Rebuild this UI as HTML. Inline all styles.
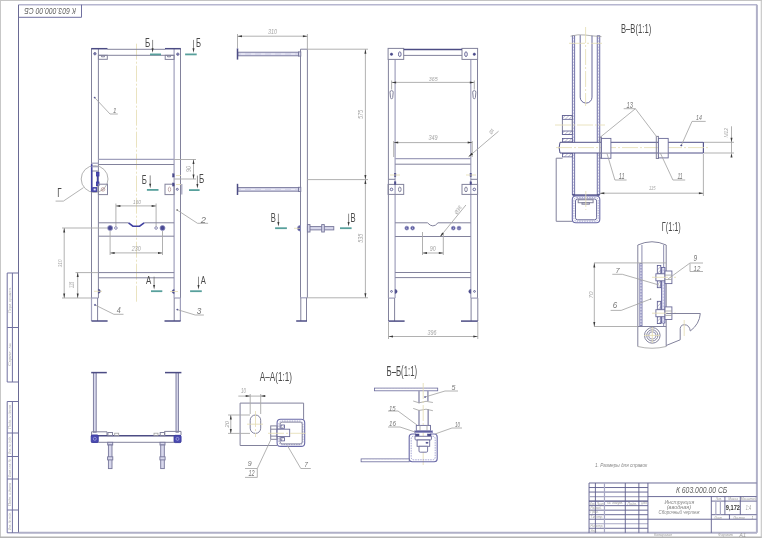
<!DOCTYPE html>
<html><head><meta charset="utf-8"><style>
html,body{margin:0;padding:0;background:#fff;width:762px;height:538px;overflow:hidden}
svg{display:block;will-change:transform}
text{font-family:"Liberation Sans",sans-serif;font-style:italic}
line,polyline{fill:none}
.m{stroke:#82829c;stroke-width:1;fill:none}
.mb{stroke:#5a5a90;stroke-width:0.9;fill:none}
.m2{stroke:#a0a0bc;stroke-width:1.2;fill:none}
.mf{stroke:#76769a;stroke-width:0.9;fill:#d8d8ec}
.d{stroke:#a8a8a8;stroke-width:0.9;fill:none}
.d2{stroke:#a0a0a0;stroke-width:0.8;fill:none}
.d3{stroke:#b09090;stroke-width:0.7;fill:none}
.rc{stroke:#fff;stroke-width:0.6;stroke-dasharray:4 6;fill:none}
.wf{fill:#e8e8f8;stroke:none}
.hw{stroke:#5c5c98;stroke-width:0.8;fill:#c8c8e4}
.hd{stroke:#fff;stroke-width:0.8;stroke-dasharray:1.5 1.5;fill:none}
.hat{stroke:#5a5a90;stroke-width:0.8;fill:url(#hp)}
.mf4{stroke:#505088;stroke-width:1;fill:#fff}
.mw{stroke:#6a6a98;stroke-width:0.9;fill:#fff}
.mt3{stroke:#6a6aa8;stroke-width:1.1;fill:none}
.d4{stroke:#8080c0;stroke-width:0.7;stroke-dasharray:1.5 1;fill:none}
.mf5{stroke:#3a3aa0;stroke-width:0.8;fill:#4a4ab0}
.wl{stroke:#c0c0f0;stroke-width:0.6;fill:none}
.mt{stroke:#4c4c84;stroke-width:1.5;fill:none}
.mt2{stroke:#5a5a90;stroke-width:1;fill:none}
.mth{stroke:#4040a0;stroke-width:1.6;fill:none}
.mth2{stroke:#4040a0;stroke-width:1.3;fill:none}
.mf2{stroke:#4a4a8a;stroke-width:0.5;fill:#4a4a8a}
.mf3{stroke:#9090c0;stroke-width:0.8;fill:#4a4a94}
.ar{fill:#3a3a3a;stroke:none}
.c{stroke:#e4dcb0;stroke-width:0.8;stroke-dasharray:16 2 2 2;fill:none}
.s{stroke:#58a09c;stroke-width:1.8}
.gb{stroke:#c4c4c4;stroke-width:1.1}
.gb2{stroke:#b4b4b4;stroke-width:1.4}
.frt{stroke:#b6b6d0;stroke-width:1.6}
.frr{stroke:#b0b0c8;stroke-width:2}
.frl{stroke:#6a6a94;stroke-width:1}
.fr2{stroke:#7070a0;stroke-width:1;fill:none}
.tbl{stroke:#5c5c8c;stroke-width:0.9}
.tbl3{stroke:#4c4c80;stroke-width:1.3}
.tbl2{stroke:#a8a8c4;stroke-width:1.2}
.dt{fill:#a4a4a4}
.lb{fill:#4a4a4a;font-style:normal}
.ld{fill:#777}
.st{fill:#aaa}
.tbi{fill:#606060}
.tbt{fill:#888}
.tbs{fill:#999}
.tbb{fill:#333;font-style:normal;font-weight:bold}
.d5{stroke:#707070;stroke-width:0.8;fill:none}
.pw{stroke:#9c9cb8;stroke-width:1.6}
.hat2{stroke:#6a6a9c;stroke-width:0.8;fill:#fff}
.mbt{stroke:#5a5a90;stroke-width:0.7;fill:#fff}

</style></head><body>
<svg width="762" height="538" viewBox="0 0 762 538">
<defs><pattern id="hp" patternUnits="userSpaceOnUse" width="2.6" height="2.6" patternTransform="rotate(45)"><rect width="2.6" height="2.6" fill="#fff"/><line x1="0" y1="0" x2="0" y2="2.6" stroke="#8c8cac" stroke-width="0.9"/></pattern></defs>
<line x1="0" y1="0.5" x2="762" y2="0.5" class="gb" />
<line x1="0.4" y1="0" x2="0.4" y2="538" class="gb" />
<line x1="0" y1="537.3" x2="762" y2="537.3" class="gb2" />
<line x1="761.3" y1="0" x2="761.3" y2="538" class="gb" />
<line x1="18.5" y1="4.8" x2="757" y2="4.8" class="frt" />
<line x1="18.5" y1="4.8" x2="18.5" y2="532.8" class="frl" />
<line x1="756.9" y1="4.8" x2="756.9" y2="532.8" class="frr" />
<line x1="18.5" y1="532.8" x2="757" y2="532.8" class="frr" />
<polyline points="18.5,17.3 81.5,17.3 81.5,4.7" class="fr2" />
<text x="0" y="0" font-size="9.3" class="tbi" textLength="51.6" lengthAdjust="spacingAndGlyphs" transform="translate(75.9 8) rotate(180)">К 603.000.00 СБ</text>
<polyline points="18.5,273 7.2,273 7.2,382 18.5,382" class="fr2" />
<line x1="12.4" y1="273" x2="12.4" y2="382" class="fr2" />
<line x1="7.2" y1="327.5" x2="18.5" y2="327.5" class="fr2" />
<polyline points="18.5,401.5 7.2,401.5 7.2,532.8 18.5,532.8" class="fr2" />
<line x1="12.4" y1="401.5" x2="12.4" y2="532.8" class="fr2" />
<line x1="7.2" y1="433" x2="18.5" y2="433" class="fr2" />
<line x1="7.2" y1="456.5" x2="18.5" y2="456.5" class="fr2" />
<line x1="7.2" y1="479" x2="18.5" y2="479" class="fr2" />
<line x1="7.2" y1="510" x2="18.5" y2="510" class="fr2" />
<text x="0" y="0" font-size="10.0" class="st" transform="matrix(0 -0.3913 0.3111 0 10.55 313.00)" >Перв. примен.</text>
<text x="0" y="0" font-size="10.0" class="st" transform="matrix(0 -0.5061 0.3077 0 10.55 366.00)" >Справ. №</text>
<text x="0" y="0" font-size="10.0" class="st" transform="matrix(0 -0.3834 0.3810 0 11.16 429.00)" >Подп. и дата</text>
<text x="0" y="0" font-size="10.0" class="st" transform="matrix(0 -0.2927 0.2963 0 10.58 454.00)" >Инв. № дубл.</text>
<text x="0" y="0" font-size="10.0" class="st" transform="matrix(0 -0.2910 0.4000 0 11.16 477.00)" >Взам. инв. №</text>
<text x="0" y="0" font-size="10.0" class="st" transform="matrix(0 -0.3674 0.3810 0 11.16 506.00)" >Подп. и дата</text>
<text x="0" y="0" font-size="10.0" class="st" transform="matrix(0 -0.2901 0.3810 0 11.16 530.00)" >Инв. № подл.</text>
<line x1="589.06" y1="482.99" x2="756.6" y2="482.99" class="tbl" />
<line x1="589.06" y1="482.99" x2="589.06" y2="532.8" class="tbl" />
<line x1="589.06" y1="487.52" x2="647.93" y2="487.52" class="tbl" />
<line x1="589.06" y1="492.05" x2="647.93" y2="492.05" class="tbl" />
<line x1="589.06" y1="496.58" x2="647.93" y2="496.58" class="tbl2" />
<line x1="589.06" y1="501.1" x2="647.93" y2="501.1" class="tbl3" />
<line x1="589.06" y1="505.63" x2="647.93" y2="505.63" class="tbl" />
<line x1="589.06" y1="510.16" x2="647.93" y2="510.16" class="tbl" />
<line x1="589.06" y1="514.69" x2="647.93" y2="514.69" class="tbl" />
<line x1="589.06" y1="519.22" x2="647.93" y2="519.22" class="tbl" />
<line x1="589.06" y1="523.74" x2="647.93" y2="523.74" class="tbl2" />
<line x1="589.06" y1="528.27" x2="647.93" y2="528.27" class="tbl" />
<line x1="595.4" y1="482.99" x2="595.4" y2="532.8" class="tbl" />
<line x1="604.46" y1="482.99" x2="604.46" y2="532.8" class="tbl2" />
<line x1="625.29" y1="482.99" x2="625.29" y2="532.8" class="tbl" />
<line x1="638.87" y1="482.99" x2="638.87" y2="532.8" class="tbl" />
<line x1="647.93" y1="482.99" x2="647.93" y2="532.8" class="tbl" />
<line x1="647.93" y1="496.58" x2="756.6" y2="496.58" class="tbl" />
<line x1="647.93" y1="519.22" x2="756.6" y2="519.22" class="tbl" />
<line x1="711.32" y1="496.58" x2="711.32" y2="532.8" class="tbl" />
<line x1="711.32" y1="501.1" x2="756.6" y2="501.1" class="tbl" />
<line x1="711.32" y1="514.69" x2="756.6" y2="514.69" class="tbl" />
<line x1="724.9" y1="496.58" x2="724.9" y2="514.69" class="tbl" />
<line x1="740.3" y1="496.58" x2="740.3" y2="514.69" class="tbl" />
<line x1="715.85" y1="501.1" x2="715.85" y2="514.69" class="tbl2" />
<line x1="720.38" y1="501.1" x2="720.38" y2="514.69" class="tbl2" />
<line x1="729.43" y1="514.69" x2="729.43" y2="519.22" class="tbl" />
<text x="0" y="0" font-size="10.0" class="tbi" transform="matrix(0.6844 0 0 0.8169 675.90 492.82)" >К 603.000.00 СБ</text>
<text x="0" y="0" font-size="10.0" class="tbt" transform="matrix(0.5205 0 0 0.4667 664.40 503.82)" >Инструкция</text>
<text x="0" y="0" font-size="10.0" class="tbt" transform="matrix(0.5495 0 0 0.4492 666.80 509.46)" >(вводная)</text>
<text x="0" y="0" font-size="10.0" class="tbt" transform="matrix(0.4440 0 0 0.4421 658.60 514.47)" >Сборочный чертеж</text>
<text x="0" y="0" font-size="10.0" class="tbs" transform="matrix(0.2630 0 0 0.4143 715.74 500.46)" >Лит.</text>
<text x="0" y="0" font-size="10.0" class="tbs" transform="matrix(0.3316 0 0 0.4143 728.20 500.46)" >Масса</text>
<text x="0" y="0" font-size="10.0" class="tbs" transform="matrix(0.3273 0 0 0.3893 740.80 500.46)" >Масштаб</text>
<text x="0" y="0" font-size="10.0" class="tbb" transform="matrix(0.5669 0 0 0.6867 725.80 510.01)" >9,172</text>
<text x="0" y="0" font-size="10.0" class="tbs" transform="matrix(0.3741 0 0 0.6957 745.80 510.00)" >1:4</text>
<text x="0" y="0" font-size="10.0" class="tbs" transform="matrix(0.3042 0 0 0.4286 714.17 518.56)" >Лист</text>
<text x="0" y="0" font-size="10.0" class="tbs" transform="matrix(0.3166 0 0 0.4286 733.17 518.56)" >Листов</text>
<text x="0" y="0" font-size="10.0" class="tbs" transform="matrix(0.3604 0 0 0.4348 751.50 518.60)" >1</text>
<text x="0" y="0" font-size="10.0" class="tbs" transform="matrix(0.2347 0 0 0.4000 590.00 504.96)" >Изм.</text>
<text x="0" y="0" font-size="10.0" class="tbs" transform="matrix(0.2852 0 0 0.4000 596.66 504.96)" >Лист</text>
<text x="0" y="0" font-size="10.0" class="tbs" transform="matrix(0.3632 0 0 0.2995 607.00 504.37)" >№ докум.</text>
<text x="0" y="0" font-size="10.0" class="tbs" transform="matrix(0.3571 0 0 0.3810 627.50 504.96)" >Подп.</text>
<text x="0" y="0" font-size="10.0" class="tbs" transform="matrix(0.2194 0 0 0.3146 641.21 504.37)" >Дата</text>
<text x="0" y="0" font-size="10.0" class="tbs" transform="matrix(0.3094 0 0 0.2963 590.50 508.78)" >Разраб.</text>
<text x="0" y="0" font-size="10.0" class="tbs" transform="matrix(0.3036 0 0 0.3111 590.50 513.28)" >Пров.</text>
<text x="0" y="0" font-size="10.0" class="tbs" transform="matrix(0.3172 0 0 0.3111 590.50 517.81)" >Т.контр.</text>
<text x="0" y="0" font-size="10.0" class="tbs" transform="matrix(0.3022 0 0 0.3111 590.50 526.87)" >Н.контр.</text>
<text x="0" y="0" font-size="10.0" class="tbs" transform="matrix(0.2813 0 0 0.4000 590.51 532.01)" >Утв.</text>
<text x="0" y="0" font-size="10.0" class="tbs" transform="matrix(0.3618 0 0 0.4000 654.00 536.36)" >Копировал</text>
<text x="0" y="0" font-size="10.0" class="tbs" transform="matrix(0.3778 0 0 0.3978 718.00 536.36)" >Формат</text>
<text x="0" y="0" font-size="10.0" class="tbs" transform="matrix(0.5490 0 0 0.5217 739.27 537.20)" >А1</text>
<text x="0" y="0" font-size="10.0" class="tbt" transform="matrix(0.4675 0 0 0.5882 595.00 467.16)" >1. Размеры для справок</text>
<line x1="136.5" y1="43.7" x2="136.5" y2="302" class="c" />
<line x1="91.5" y1="48.6" x2="91.5" y2="298" class="m" />
<line x1="98.4" y1="48.8" x2="98.4" y2="298" class="m" />
<line x1="174.1" y1="48.8" x2="174.1" y2="298" class="m2" />
<line x1="180.5" y1="48.6" x2="180.5" y2="298" class="m" />
<line x1="107.3" y1="49.3" x2="165.2" y2="49.3" class="m" />
<line x1="91.2" y1="48.7" x2="107.5" y2="48.7" class="mt" />
<line x1="165" y1="48.7" x2="180.8" y2="48.7" class="mt" />
<line x1="98.4" y1="55.3" x2="174.1" y2="55.3" class="m" />
<rect x="98.4" y="55.3" width="8.9" height="4" class="m" />
<rect x="165.2" y="55.3" width="8.9" height="4.1" class="m" />
<polyline points="101.5,55.3 101.5,56.8 104.5,56.8 104.5,55.3" class="m" />
<polyline points="167.5,55.3 167.5,56.8 170.5,56.8 170.5,55.3" class="m" />
<circle cx="94.9" cy="53.7" r="1.2" class="mb" />
<circle cx="177.8" cy="54.2" r="1.2" class="mb" />
<circle cx="94.9" cy="53.7" r="0.5" class="mf2" />
<circle cx="177.8" cy="54.2" r="0.5" class="mf2" />
<line x1="98.4" y1="159.4" x2="174.1" y2="159.4" class="m2" />
<line x1="98.4" y1="164.5" x2="174.1" y2="164.5" class="m" />
<circle cx="94.6" cy="179" r="13.4" class="d2" />
<polyline points="83.5,187.6 63.4,201.1 55.6,201.1" class="d2" />
<text x="0" y="0" font-size="10.0" class="lb" transform="matrix(0.7963 0 0 1.3043 57.30 196.90)" >Г</text>
<rect x="91.7" y="171" width="5.5" height="20.8" class="m" />
<line x1="91.7" y1="164.2" x2="91.7" y2="191.8" class="mth" />
<line x1="97.7" y1="172" x2="97.7" y2="185.5" class="mth2" />
<rect x="96.4" y="172.3" width="2.6" height="3.7" class="mf5" />
<rect x="96.4" y="182" width="2.6" height="3.6" class="mf5" />
<rect x="92.7" y="187.6" width="3.9" height="3.8" class="mf5" />
<rect x="93.6" y="188.6" width="2.1" height="1.8" class="wf" />
<line x1="91.5" y1="163.2" x2="98.4" y2="163.2" class="m2" />
<line x1="91.5" y1="166.7" x2="98.4" y2="166.7" class="m2" />
<rect x="98.4" y="184.2" width="9.1" height="10.4" class="m" />
<circle cx="103" cy="189.4" r="1.8" class="d3" />
<line x1="101.5" y1="191" x2="104.5" y2="188" class="d3" />
<rect x="165" y="184.2" width="9.1" height="10.4" class="m" />
<ellipse cx="169.5" cy="189.4" rx="1.2" ry="2.3" class="d3" />
<circle cx="177.3" cy="189.3" r="1" class="mb" />
<line x1="181.8" y1="184" x2="181.8" y2="194.5" class="m2" />
<rect x="172.6" y="173.8" width="1.5" height="3.2" class="mf2" />
<rect x="172.6" y="183" width="1.5" height="3" class="mf2" />
<line x1="176" y1="175.5" x2="181" y2="175.5" class="c" />
<line x1="176" y1="184.5" x2="181" y2="184.5" class="c" />
<line x1="174.1" y1="159.5" x2="196" y2="159.5" class="d" />
<line x1="174.1" y1="179" x2="196" y2="179" class="d" />
<line x1="193.5" y1="159.5" x2="193.5" y2="179" class="d" />
<polygon points="193.5,159.5 192.5,164 194.5,164" class="ar" />
<polygon points="193.5,179 192.5,174.5 194.5,174.5" class="ar" />
<text x="0" y="0" font-size="10.0" class="dt" transform="matrix(0 -0.5225 0.6338 0 190.64 171.90)" >90</text>
<line x1="150" y1="54.4" x2="161" y2="54.4" class="s" />
<line x1="152.6" y1="39.9" x2="152.6" y2="49.4" class="d5" />
<polygon points="152.6,52.8 151.6,48.3 153.6,48.3" class="ar" />
<text x="0" y="0" font-size="10.0" class="lb" transform="matrix(0.7939 0 0 1.1884 145.00 47.40)" >Б</text>
<line x1="185.1" y1="54.4" x2="196.7" y2="54.4" class="s" />
<line x1="193.5" y1="39.9" x2="193.5" y2="49.4" class="d5" />
<polygon points="193.5,52.8 192.5,48.3 194.5,48.3" class="ar" />
<text x="0" y="0" font-size="10.0" class="lb" transform="matrix(0.7634 0 0 1.1884 196.00 47.40)" >Б</text>
<line x1="146.9" y1="189.9" x2="158.5" y2="189.9" class="s" />
<line x1="150.2" y1="175.4" x2="150.2" y2="184.9" class="d5" />
<polygon points="150.2,188.3 149.2,183.8 151.2,183.8" class="ar" />
<text x="0" y="0" font-size="10.0" class="lb" transform="matrix(0.7786 0 0 1.3478 141.80 183.60)" >Б</text>
<line x1="189" y1="190.1" x2="199.6" y2="190.1" class="s" />
<line x1="197.4" y1="175.6" x2="197.4" y2="185.1" class="d5" />
<polygon points="197.4,188.5 196.4,184 198.4,184" class="ar" />
<text x="0" y="0" font-size="10.0" class="lb" transform="matrix(0.7939 0 0 1.2174 199.00 183.40)" >Б</text>
<line x1="115.9" y1="203.5" x2="115.9" y2="226.5" class="d" />
<line x1="156.1" y1="203.5" x2="156.1" y2="226.5" class="d" />
<line x1="115.9" y1="205.9" x2="156.1" y2="205.9" class="d" />
<polygon points="115.9,205.9 120.4,204.9 120.4,206.9" class="ar" />
<polygon points="156.1,205.9 151.6,204.9 151.6,206.9" class="ar" />
<text x="0" y="0" font-size="10.0" class="dt" transform="matrix(0.4731 0 0 0.5915 133.00 203.54)" >160</text>
<line x1="98.4" y1="222.8" x2="128.5" y2="222.8" class="m" />
<line x1="144.1" y1="222.8" x2="174.1" y2="222.8" class="m" />
<path d="M128.5,222.8 L132.9,226.2 L139.6,226.2 L144.1,222.8" class="mth" />
<line x1="98.4" y1="236.2" x2="174.1" y2="236.2" class="m" />
<circle cx="110.1" cy="228" r="2.5" class="mf3" />
<circle cx="162.5" cy="228" r="2.5" class="mf3" />
<circle cx="115.9" cy="228" r="1.3" class="mbt" />
<circle cx="156.1" cy="228" r="1.3" class="mbt" />
<line x1="110.1" y1="231" x2="110.1" y2="255" class="d" />
<line x1="162.5" y1="231" x2="162.5" y2="255" class="d" />
<line x1="110.1" y1="252.9" x2="162.5" y2="252.9" class="d" />
<polygon points="110.1,252.9 114.6,251.9 114.6,253.9" class="ar" />
<polygon points="162.5,252.9 158,251.9 158,253.9" class="ar" />
<text x="0" y="0" font-size="10.0" class="dt" transform="matrix(0.5417 0 0 0.7887 131.65 250.62)" >230</text>
<line x1="98.4" y1="272.6" x2="174.1" y2="272.6" class="m" />
<line x1="98.4" y1="277.8" x2="174.1" y2="277.8" class="m" />
<line x1="91.5" y1="298" x2="98.4" y2="298" class="m2" />
<line x1="174.1" y1="298" x2="180.5" y2="298" class="m2" />
<line x1="91.5" y1="298" x2="91.5" y2="321" class="m2" />
<line x1="97.6" y1="298" x2="97.6" y2="321" class="m" />
<line x1="174.2" y1="298" x2="174.2" y2="321" class="m" />
<line x1="180.4" y1="298" x2="180.4" y2="321" class="m2" />
<line x1="91.5" y1="321" x2="107.6" y2="321" class="mt" />
<line x1="164.5" y1="321" x2="180.6" y2="321" class="mt" />
<path d="M98.4,289.3 A2,2 0 0 1 98.4,293.3 Z" class="mf2" />
<line x1="94" y1="291.3" x2="102" y2="291.3" class="c" />
<path d="M174.1,289.5 A2,2 0 0 0 174.1,293.5 Z" class="mf2" />
<line x1="170" y1="291.5" x2="178" y2="291.5" class="c" />
<line x1="62" y1="228" x2="107.5" y2="228" class="d" />
<line x1="62" y1="298" x2="91.5" y2="298" class="d" />
<line x1="75.5" y1="272.6" x2="98.4" y2="272.6" class="d" />
<line x1="64.2" y1="228" x2="64.2" y2="298" class="d" />
<polygon points="64.2,228 63.2,232.5 65.2,232.5" class="ar" />
<polygon points="64.2,298 63.2,293.5 65.2,293.5" class="ar" />
<text x="0" y="0" font-size="10.0" class="dt" transform="matrix(0 -0.4671 0.6197 0 62.14 267.30)" >310</text>
<line x1="77.7" y1="272.6" x2="77.7" y2="298" class="d" />
<polygon points="77.7,272.6 76.7,277.1 78.7,277.1" class="ar" />
<polygon points="77.7,298 76.7,293.5 78.7,293.5" class="ar" />
<text x="0" y="0" font-size="10.0" class="dt" transform="matrix(0 -0.3812 0.6429 0 74.44 287.90)" >115</text>
<line x1="151" y1="291.2" x2="162.3" y2="291.2" class="s" />
<line x1="154.1" y1="276.7" x2="154.1" y2="286.2" class="d5" />
<polygon points="154.1,289.6 153.1,285.1 155.1,285.1" class="ar" />
<text x="0" y="0" font-size="10.0" class="lb" transform="matrix(0.7910 0 0 1.0870 145.90 283.80)" >А</text>
<line x1="190.1" y1="291.2" x2="201.8" y2="291.2" class="s" />
<line x1="198.5" y1="276.7" x2="198.5" y2="286.2" class="d5" />
<polygon points="198.5,289.6 197.5,285.1 199.5,285.1" class="ar" />
<text x="0" y="0" font-size="10.0" class="lb" transform="matrix(0.7612 0 0 1.0870 200.80 283.80)" >А</text>
<polyline points="94.7,97.6 110,114 117.8,114" class="d2" />
<circle cx="94.7" cy="97.6" r="0.6" class="mf2" />
<text x="0" y="0" font-size="10.0" class="ld" transform="matrix(0.6306 0 0 0.7681 113.00 112.80)" >1</text>
<polyline points="177.1,210 197.5,223.3 208.1,223.3" class="d2" />
<circle cx="177.1" cy="210" r="0.7" class="ar" />
<text x="0" y="0" font-size="10.0" class="ld" transform="matrix(0.9381 0 0 0.9286 200.79 222.70)" >2</text>
<polyline points="95,304.9 113.9,314.3 123.5,314.3" class="d2" />
<circle cx="95" cy="304.9" r="0.7" class="mf2" />
<text x="0" y="0" font-size="10.0" class="ld" transform="matrix(0.7207 0 0 0.8406 116.80 312.60)" >4</text>
<polyline points="177.3,309.6 195.2,315 203.9,315" class="d2" />
<circle cx="177.3" cy="309.6" r="0.6" class="mf2" />
<text x="0" y="0" font-size="10.0" class="ld" transform="matrix(0.8288 0 0 0.9296 196.70 313.81)" >3</text>
<line x1="300.5" y1="49.2" x2="300.5" y2="297.8" class="m" />
<line x1="307.4" y1="49.2" x2="307.4" y2="297.8" class="m" />
<line x1="300.5" y1="49.2" x2="307.4" y2="49.2" class="m" />
<line x1="300.5" y1="297.8" x2="307.4" y2="297.8" class="m2" />
<rect x="237.8" y="52.2" width="60.7" height="3.6" class="mf" />
<line x1="241" y1="54" x2="297" y2="54" class="rc" />
<line x1="237.5" y1="48.4" x2="237.5" y2="59.6" class="mt" />
<rect x="298.5" y="51.9" width="2.3" height="4.2" class="mf" />
<rect x="237.8" y="187.6" width="60.7" height="3.6" class="mf" />
<line x1="241" y1="189.4" x2="297" y2="189.4" class="rc" />
<line x1="237.5" y1="183.8" x2="237.5" y2="195" class="mt" />
<rect x="298.5" y="187.3" width="2.3" height="4.2" class="mf" />
<line x1="300.8" y1="297.8" x2="300.8" y2="321" class="m" />
<line x1="306.5" y1="297.8" x2="306.5" y2="321" class="m" />
<line x1="296.2" y1="321" x2="307" y2="321" class="mt" />
<path d="M300.3,225.5 A2.8,2.8 0 0 0 300.3,231.1 Z" class="mf3" />
<line x1="294" y1="228.3" x2="300" y2="228.3" class="c" />
<rect x="307.4" y="226.6" width="26.4" height="3.3" class="mf" />
<rect x="307.4" y="224.6" width="2.6" height="7.4" class="mf" />
<rect x="321.7" y="224.6" width="2.6" height="7.4" class="mf" />
<line x1="237.5" y1="34" x2="237.5" y2="48" class="d" />
<line x1="307.4" y1="34" x2="307.4" y2="49" class="d" />
<line x1="237.5" y1="36.2" x2="307.4" y2="36.2" class="d" />
<polygon points="237.5,36.2 242,35.2 242,37.2" class="ar" />
<polygon points="307.4,36.2 302.9,35.2 302.9,37.2" class="ar" />
<text x="0" y="0" font-size="10.0" class="dt" transform="matrix(0.5509 0 0 0.6761 267.90 34.23)" >310</text>
<line x1="307.4" y1="49.2" x2="368" y2="49.2" class="d" />
<line x1="307.4" y1="179.6" x2="368" y2="179.6" class="d" />
<line x1="307.4" y1="297.8" x2="368" y2="297.8" class="d" />
<line x1="365.4" y1="49.2" x2="365.4" y2="179.6" class="d" />
<polygon points="365.4,49.2 364.4,53.7 366.4,53.7" class="ar" />
<polygon points="365.4,179.6 364.4,175.1 366.4,175.1" class="ar" />
<line x1="365.4" y1="179.6" x2="365.4" y2="297.8" class="d" />
<polygon points="365.4,179.6 364.4,184.1 366.4,184.1" class="ar" />
<polygon points="365.4,297.8 364.4,293.3 366.4,293.3" class="ar" />
<text x="0" y="0" font-size="10.0" class="dt" transform="matrix(0 -0.5509 0.7571 0 363.02 119.00)" >575</text>
<text x="0" y="0" font-size="10.0" class="dt" transform="matrix(0 -0.5329 0.7183 0 362.93 242.70)" >535</text>
<line x1="275.1" y1="228.2" x2="286.9" y2="228.2" class="s" />
<line x1="278.4" y1="213.7" x2="278.4" y2="223.2" class="d5" />
<polygon points="278.4,226.6 277.4,222.1 279.4,222.1" class="ar" />
<text x="0" y="0" font-size="10.0" class="lb" transform="matrix(0.7669 0 0 1.2464 270.80 221.70)" >В</text>
<line x1="340" y1="228.2" x2="351.6" y2="228.2" class="s" />
<line x1="348.6" y1="213.7" x2="348.6" y2="223.2" class="d5" />
<polygon points="348.6,226.6 347.6,222.1 349.6,222.1" class="ar" />
<text x="0" y="0" font-size="10.0" class="lb" transform="matrix(0.7669 0 0 1.2464 350.60 221.70)" >В</text>
<line x1="388.4" y1="59.4" x2="388.4" y2="298.1" class="m" />
<line x1="395.1" y1="59.4" x2="395.1" y2="298.1" class="m2" />
<line x1="470.8" y1="59.4" x2="470.8" y2="298.1" class="m2" />
<line x1="477.5" y1="59.4" x2="477.5" y2="298.1" class="m" />
<rect x="388.1" y="48.4" width="15.6" height="11" class="m" />
<rect x="462" y="48.4" width="15.6" height="11" class="m" />
<line x1="403.7" y1="49.5" x2="462" y2="49.5" class="mt" />
<line x1="403.7" y1="55.4" x2="462" y2="55.4" class="m" />
<circle cx="391.5" cy="54.2" r="1.2" class="mf2" />
<ellipse cx="399.8" cy="54.2" rx="1.3" ry="2.4" class="mb" />
<circle cx="391.5" cy="189.4" r="1.3" class="mb" />
<ellipse cx="399.8" cy="189.4" rx="1.3" ry="2.4" class="m" />
<circle cx="474.3" cy="54.2" r="1.2" class="mf2" />
<ellipse cx="466" cy="54.2" rx="1.3" ry="2.4" class="mb" />
<circle cx="474.3" cy="189.4" r="1.3" class="mb" />
<ellipse cx="466" cy="189.4" rx="1.3" ry="2.4" class="m" />
<path d="M390.0,92.2 A1.6,1.6 0 0 1 393.20000000000005,92.2 L392.70000000000005,97.6 A1.1,1.1 0 0 1 390.5,97.6 Z" class="m" />
<path d="M472.7,92.2 A1.6,1.6 0 0 1 475.90000000000003,92.2 L475.40000000000003,97.6 A1.1,1.1 0 0 1 473.2,97.6 Z" class="m" />
<line x1="391.6" y1="80.5" x2="391.6" y2="89.5" class="d" />
<line x1="474.3" y1="80.5" x2="474.3" y2="89.5" class="d" />
<line x1="391.6" y1="82.4" x2="474.3" y2="82.4" class="d" />
<polygon points="391.6,82.4 396.1,81.4 396.1,83.4" class="ar" />
<polygon points="474.3,82.4 469.8,81.4 469.8,83.4" class="ar" />
<text x="0" y="0" font-size="10.0" class="dt" transform="matrix(0.5269 0 0 0.5915 428.80 80.74)" >365</text>
<line x1="393.7" y1="141" x2="393.7" y2="157" class="d" />
<line x1="472.2" y1="141" x2="472.2" y2="157" class="d" />
<line x1="393.7" y1="142.6" x2="472.2" y2="142.6" class="d" />
<polygon points="393.7,142.6 398.2,141.6 398.2,143.6" class="ar" />
<polygon points="472.2,142.6 467.7,141.6 467.7,143.6" class="ar" />
<text x="0" y="0" font-size="10.0" class="dt" transform="matrix(0.5509 0 0 0.6479 428.40 140.44)" >349</text>
<line x1="395.1" y1="158.7" x2="470.8" y2="158.7" class="m2" />
<line x1="395.1" y1="164.2" x2="470.8" y2="164.2" class="m" />
<line x1="388.4" y1="179.3" x2="395.1" y2="179.3" class="m" />
<line x1="470.8" y1="179.3" x2="477.5" y2="179.3" class="m" />
<rect x="388.1" y="184.4" width="15.6" height="10" class="m" />
<rect x="462" y="184.4" width="15.6" height="10" class="m" />
<rect x="394.4" y="173.5" width="1.5" height="3.1" class="mf2" />
<rect x="394.4" y="181.8" width="1.5" height="2.6" class="mf2" />
<rect x="470" y="173.5" width="1.5" height="3.1" class="mf2" />
<rect x="470" y="181.8" width="1.5" height="2.6" class="mf2" />
<line x1="390" y1="175" x2="400" y2="175" class="c" />
<line x1="466" y1="175" x2="476" y2="175" class="c" />
<line x1="498.6" y1="131.2" x2="468.5" y2="156.8" class="d" />
<polygon points="468.5,156.8 471.6,152.72 473.02,154.4" class="ar" />
<text x="0" y="0" font-size="10.0" class="dt" transform="translate(491.5 131.5) rotate(-55) matrix(0.3663 0 0 0.5333 -2.39 1.84)">Ø4</text>
<line x1="395.1" y1="222.8" x2="427.5" y2="222.8" class="m" />
<line x1="438" y1="222.8" x2="470.8" y2="222.8" class="m" />
<path d="M427.5,222.8 Q433,229 438,222.8" class="m" />
<line x1="395.1" y1="236.5" x2="470.8" y2="236.5" class="m" />
<circle cx="406.8" cy="228.1" r="1.9" class="mf3" />
<circle cx="406.8" cy="228.1" r="0.7" class="wf" />
<circle cx="412.6" cy="228.1" r="1.9" class="mf3" />
<circle cx="412.6" cy="228.1" r="0.7" class="wf" />
<circle cx="453.3" cy="228.1" r="1.9" class="mf3" />
<circle cx="453.3" cy="228.1" r="0.7" class="wf" />
<circle cx="459" cy="228.1" r="1.9" class="mf3" />
<circle cx="459" cy="228.1" r="0.7" class="wf" />
<line x1="465.9" y1="205" x2="439.9" y2="237" class="d" />
<polygon points="439.9,237 442.2,232.43 443.91,233.81" class="ar" />
<text x="0" y="0" font-size="10.0" class="dt" transform="translate(458 210) rotate(-55) matrix(0.4688 0 0 0.5333 -4.36 1.84)">Ø38</text>
<line x1="422.5" y1="232" x2="422.5" y2="255" class="d" />
<line x1="443.3" y1="234" x2="443.3" y2="255" class="d" />
<line x1="422.5" y1="253" x2="443.3" y2="253" class="d" />
<polygon points="422.5,253 427,252 427,254" class="ar" />
<polygon points="443.3,253 438.8,252 438.8,254" class="ar" />
<text x="0" y="0" font-size="10.0" class="dt" transform="matrix(0.5405 0 0 0.7183 429.80 250.73)" >90</text>
<line x1="395.1" y1="272.5" x2="470.8" y2="272.5" class="m" />
<line x1="395.1" y1="277.6" x2="470.8" y2="277.6" class="m" />
<line x1="388.4" y1="298.1" x2="395.1" y2="298.1" class="m2" />
<line x1="470.8" y1="298.1" x2="477.5" y2="298.1" class="m2" />
<line x1="388.5" y1="298.1" x2="388.5" y2="321.1" class="m" />
<line x1="394.6" y1="298.1" x2="394.6" y2="321.1" class="m" />
<line x1="471.1" y1="298.1" x2="471.1" y2="321.1" class="m" />
<line x1="477.8" y1="298.1" x2="477.8" y2="321.1" class="m" />
<line x1="388.5" y1="321.1" x2="404.6" y2="321.1" class="mt" />
<line x1="461" y1="321.1" x2="477.8" y2="321.1" class="mt" />
<circle cx="391.5" cy="291.4" r="0.9" class="mb" />
<path d="M395.1,289.4 A2,2 0 0 1 395.1,293.4 Z" class="mf2" />
<circle cx="474.5" cy="291.4" r="0.9" class="mb" />
<path d="M470.8,289.4 A2,2 0 0 0 470.8,293.4 Z" class="mf2" />
<line x1="388.5" y1="322" x2="388.5" y2="339" class="d" />
<line x1="477.8" y1="322" x2="477.8" y2="339" class="d" />
<line x1="388.5" y1="336.5" x2="477.8" y2="336.5" class="d" />
<polygon points="388.5,336.5 393,335.5 393,337.5" class="ar" />
<polygon points="477.8,336.5 473.3,335.5 473.3,337.5" class="ar" />
<text x="0" y="0" font-size="10.0" class="dt" transform="matrix(0.5329 0 0 0.7887 427.60 334.92)" >396</text>
<text x="0" y="0" font-size="10.0" class="lb" transform="matrix(0.7655 0 0 1.3043 621.00 33.20)" >В–В(1:1)</text>
<rect x="572.3" y="35.8" width="2.4" height="158.8" class="hw" />
<line x1="573.5" y1="36" x2="573.5" y2="194.6" class="hd" />
<rect x="597.2" y="35.8" width="2.6" height="158.8" class="hw" />
<line x1="598.5" y1="36" x2="598.5" y2="194.6" class="hd" />
<path d="M570.5,36.2 Q578,34 585,35 T601.5,36.6" class="d2" />
<path d="M580.2,35.2 L580.2,97.2 A5.9,5.9 0 0 0 592,97.2 L592,35.6" class="mb" />
<line x1="585.6" y1="27" x2="585.6" y2="106" class="c" />
<line x1="569" y1="43.3" x2="602" y2="43.3" class="c" />
<rect x="562.4" y="115.6" width="9.9" height="18.9" class="m" />
<rect x="562.4" y="115.6" width="9.9" height="3.7" class="hat" />
<rect x="562.4" y="131" width="9.9" height="3.5" class="hat" />
<rect x="562.4" y="138.4" width="9.9" height="3.5" class="hat" />
<rect x="562.4" y="153.3" width="9.9" height="3.6" class="hat" />
<line x1="555" y1="125" x2="605" y2="125" class="c" />
<polyline points="562.6,158.2 556.2,158.2 556.2,221.3 572.3,221.3" class="m" />
<path d="M560,142.3 L703.4,142.3 L703.4,153 L560,153 Q558.2,147.6 560,142.3 Z" class="mf4" />
<line x1="703.4" y1="142.3" x2="703.4" y2="153" class="mt2" />
<line x1="556" y1="147.6" x2="708" y2="147.6" class="c" />
<rect x="599.8" y="137.1" width="1.6" height="21.2" class="m" />
<rect x="601.4" y="138.4" width="9.5" height="19.9" class="mw" />
<line x1="601.4" y1="153.1" x2="610.9" y2="153.1" class="m" />
<rect x="656.3" y="136.4" width="2.1" height="22.1" class="m" />
<rect x="658.4" y="138.4" width="9.8" height="19.5" class="mw" />
<line x1="658.4" y1="153.1" x2="668.2" y2="153.1" class="m" />
<line x1="572.5" y1="195.1" x2="599.6" y2="195.1" class="mt" />
<rect x="572.3" y="196" width="27.5" height="26.8" rx="3.5" class="mt3"/>
<rect x="573.9" y="197.6" width="24.3" height="23.6" rx="2.8" class="d4"/>
<rect x="575.5" y="199" width="21.1" height="20.8" rx="2" class="mb"/>
<rect x="578.2" y="199.8" width="14.9" height="2.9" class="m" />
<rect x="582" y="202.7" width="7.4" height="1.5" class="m" />
<line x1="585.8" y1="191" x2="585.8" y2="210" class="c" />
<line x1="703.4" y1="154" x2="703.4" y2="196" class="d" />
<line x1="599.8" y1="193.2" x2="703.4" y2="193.2" class="d" />
<polygon points="599.8,193.2 604.3,192.2 604.3,194.2" class="ar" />
<polygon points="703.4,193.2 698.9,192.2 698.9,194.2" class="ar" />
<text x="0" y="0" font-size="10.0" class="dt" transform="matrix(0.4062 0 0 0.5714 649.00 190.44)" >115</text>
<line x1="704" y1="142.3" x2="734" y2="142.3" class="d" />
<line x1="704" y1="153" x2="734" y2="153" class="d" />
<line x1="731.5" y1="126.3" x2="731.5" y2="153" class="d" />
<polygon points="731.5,142.3 730.5,137.8 732.5,137.8" class="ar" />
<polygon points="731.5,153 730.5,157.5 732.5,157.5" class="ar" />
<text x="0" y="0" font-size="10.0" class="dt" transform="matrix(0 -0.4884 0.5714 0 728.30 137.50)" >M12</text>
<polyline points="600.5,137 635.4,108.7 623.7,108.7" class="d2" />
<line x1="635.4" y1="108.7" x2="656.9" y2="137" class="d2" />
<text x="0" y="0" font-size="10.0" class="ld" transform="matrix(0.5766 0 0 0.9155 626.60 107.61)" >13</text>
<polyline points="681.3,145.4 692,121.4 705.7,121.4" class="d2" />
<circle cx="681.3" cy="145.4" r="0.7" class="mf2" />
<text x="0" y="0" font-size="10.0" class="ld" transform="matrix(0.5225 0 0 0.7101 696.00 120.40)" >14</text>
<polyline points="607,153.5 614.9,180 626.6,180" class="d2" />
<text x="0" y="0" font-size="10.0" class="ld" transform="matrix(0.5577 0 0 0.8551 618.80 178.60)" >11</text>
<polyline points="660.4,153.2 672.9,180 685.2,180" class="d2" />
<text x="0" y="0" font-size="10.0" class="ld" transform="matrix(0.5096 0 0 0.8551 677.40 178.60)" >11</text>
<text x="0" y="0" font-size="10.0" class="lb" transform="matrix(0.7308 0 0 1.2754 661.80 230.70)" >Г(1:1)</text>
<path d="M637.8,245 Q652,238.5 666.2,245" class="m" />
<line x1="637.8" y1="245" x2="637.8" y2="346.5" class="m" />
<line x1="666.2" y1="245" x2="666.2" y2="346.5" class="m" />
<line x1="641.9" y1="245" x2="641.9" y2="262.9" class="m2" />
<line x1="663.6" y1="245" x2="663.6" y2="267.5" class="m2" />
<line x1="663.6" y1="323" x2="663.6" y2="326.5" class="m2" />
<path d="M637.8,346.5 Q652,350 666.2,346.5" class="d2" />
<rect x="639.9" y="263.4" width="2.1" height="62.6" class="hw" />
<line x1="640.95" y1="263.5" x2="640.95" y2="326" class="hd" />
<line x1="594" y1="262.9" x2="666.2" y2="262.9" class="d" />
<line x1="594" y1="326.5" x2="640" y2="326.5" class="d" />
<line x1="637.8" y1="326.5" x2="666.2" y2="326.5" class="m" />
<rect x="661.5" y="267.5" width="3.5" height="55.5" class="hw" />
<line x1="663.25" y1="268" x2="663.25" y2="323" class="hd" />
<rect x="657.3" y="265.4" width="3.5" height="8.4" class="hat" />
<rect x="657.3" y="280.8" width="3.5" height="6.9" class="hat" />
<rect x="655.9" y="273.8" width="9.1" height="7" class="mw" />
<rect x="665" y="271" width="6.9" height="12.6" class="mw" />
<line x1="665" y1="275.1" x2="671.9" y2="275.1" class="d2" />
<line x1="665" y1="279.5" x2="671.9" y2="279.5" class="d2" />
<line x1="652" y1="277.3" x2="676" y2="277.3" class="c" />
<rect x="657.3" y="301.3" width="3.5" height="8.4" class="hat" />
<rect x="657.3" y="316.7" width="3.5" height="6.9" class="hat" />
<rect x="655.9" y="309.7" width="9.1" height="7" class="mw" />
<rect x="665" y="306.9" width="6.9" height="12.6" class="mw" />
<line x1="665" y1="311" x2="671.9" y2="311" class="d2" />
<line x1="665" y1="315.4" x2="671.9" y2="315.4" class="d2" />
<line x1="652" y1="313.2" x2="676" y2="313.2" class="c" />
<path d="M666.2,313.5 L700.3,313.5 Q699.5,324 690.3,331 Q689.5,324.8 684.2,324.7 Q679.5,325 680.2,331 L680.2,339.8 L666.2,345.5" class="m" />
<line x1="684.2" y1="320" x2="684.2" y2="336" class="c" />
<circle cx="652.3" cy="335.4" r="7.8" class="m" />
<circle cx="652.3" cy="335.4" r="5.6" class="m" />
<circle cx="652.3" cy="335.4" r="3.6" class="m2" />
<line x1="644" y1="335.4" x2="661" y2="335.4" class="c" />
<line x1="652.3" y1="327" x2="652.3" y2="344" class="c" />
<line x1="594.3" y1="262.9" x2="594.3" y2="326.5" class="d" />
<polygon points="594.3,262.9 593.3,267.4 595.3,267.4" class="ar" />
<polygon points="594.3,326.5 593.3,322 595.3,322" class="ar" />
<text x="0" y="0" font-size="10.0" class="dt" transform="matrix(0 -0.6306 0.5634 0 592.74 298.50)" >70</text>
<polyline points="668,279 690,263 703,263" class="d2" />
<text x="0" y="0" font-size="10.0" class="ld" transform="matrix(0.6486 0 0 0.8169 693.60 261.22)" >9</text>
<polyline points="690,263.5 690,271.5" class="d2" />
<line x1="690" y1="271.5" x2="703" y2="271.5" class="d2" />
<text x="0" y="0" font-size="10.0" class="ld" transform="matrix(0.6036 0 0 0.8000 693.60 270.70)" >12</text>
<polyline points="659,285 622.3,274.3 612.3,274.3" class="d2" />
<text x="0" y="0" font-size="10.0" class="ld" transform="matrix(0.7458 0 0 0.8116 615.60 272.80)" >7</text>
<polyline points="650.7,299 621.2,310.4 610.6,310.4" class="d2" />
<circle cx="650.7" cy="299" r="0.6" class="ar" />
<text x="0" y="0" font-size="10.0" class="ld" transform="matrix(0.8036 0 0 0.8592 612.80 308.41)" >6</text>
<rect x="93.4" y="372.6" width="2.8" height="59.6" class="mf" />
<line x1="91.2" y1="372.6" x2="106.8" y2="372.6" class="mt" />
<rect x="176" y="372.6" width="2.4" height="59.6" class="mf" />
<line x1="165" y1="372.6" x2="181.4" y2="372.6" class="mt" />
<polyline points="91.6,435 91.6,431.8 107,431.8 107,435.3" class="m" />
<polyline points="164.5,435 164.5,431.4 181,431.4 181,435" class="m" />
<line x1="91.2" y1="435.8" x2="181" y2="435.8" class="mt" />
<line x1="91.2" y1="442.3" x2="181" y2="442.3" class="m" />
<rect x="91.2" y="434.9" width="7.1" height="7.6" rx="1.3" class="mf5"/>
<rect x="174" y="435.3" width="7.1" height="7.3" rx="1.3" class="mf5"/>
<circle cx="94.8" cy="438.8" r="1.5" class="wl" />
<circle cx="177.5" cy="438.9" r="1.5" class="wl" />
<rect x="107.7" y="442.3" width="5" height="2.7" class="mf" />
<rect x="108.4" y="445" width="3.6" height="23.6" class="mf" />
<rect x="107.6" y="456.8" width="5.2" height="3.1" class="mf" />
<rect x="107.9" y="432.5" width="4.6" height="3.2" class="m" />
<rect x="114.7" y="433.2" width="4" height="2.5" class="d2" />
<rect x="160" y="442.3" width="5" height="2.7" class="mf" />
<rect x="160.7" y="445" width="3.6" height="23.6" class="mf" />
<rect x="159.9" y="456.8" width="5.2" height="3.1" class="mf" />
<rect x="160.2" y="432.5" width="4.6" height="3.2" class="m" />
<rect x="154" y="433.2" width="4" height="2.5" class="d2" />
<text x="0" y="0" font-size="10.0" class="lb" transform="matrix(0.8162 0 0 1.2754 259.80 380.70)" >А–А(1:1)</text>
<polyline points="277.1,445.5 240.1,445.5 240.1,403.1 303.6,403.1 303.6,419.5" class="m" />
<rect x="250.2" y="415" width="10.5" height="18.4" rx="5.2" class="m"/>
<line x1="255.5" y1="411" x2="255.5" y2="437" class="c" />
<line x1="247" y1="424.2" x2="264" y2="424.2" class="c" />
<line x1="250.2" y1="394" x2="250.2" y2="414" class="d" />
<line x1="260.7" y1="394" x2="260.7" y2="414" class="d" />
<line x1="238.3" y1="396.1" x2="265.5" y2="396.1" class="d" />
<polygon points="250.2,396.1 245.7,395.1 245.7,397.1" class="ar" />
<polygon points="260.7,396.1 265.2,395.1 265.2,397.1" class="ar" />
<text x="0" y="0" font-size="10.0" class="dt" transform="matrix(0.4505 0 0 0.6338 241.00 392.94)" >10</text>
<line x1="228" y1="415" x2="250" y2="415" class="d" />
<line x1="228" y1="433.4" x2="250" y2="433.4" class="d" />
<line x1="230.8" y1="415" x2="230.8" y2="433.4" class="d" />
<polygon points="230.8,415 229.8,419.5 231.8,419.5" class="ar" />
<polygon points="230.8,433.4 229.8,428.9 231.8,428.9" class="ar" />
<text x="0" y="0" font-size="10.0" class="dt" transform="matrix(0 -0.5804 0.6056 0 228.74 427.44)" >20</text>
<rect x="277.1" y="419.2" width="27.6" height="27.2" rx="3.5" class="mt3"/>
<rect x="278.9" y="421" width="24" height="23.6" rx="2.8" class="d4"/>
<rect x="280.1" y="422.1" width="22.1" height="21.8" rx="2" class="m"/>
<rect x="270.7" y="425.9" width="6.4" height="13.4" class="m" />
<line x1="270.7" y1="429.2" x2="277.1" y2="429.2" class="m" />
<line x1="270.7" y1="436.1" x2="277.1" y2="436.1" class="m" />
<rect x="277.1" y="429.2" width="12.6" height="7.4" class="mw" />
<rect x="281" y="425" width="3.5" height="3.3" class="hat" />
<rect x="281" y="437.6" width="3.5" height="3.3" class="hat" />
<line x1="268" y1="433.3" x2="306" y2="433.3" class="c" />
<polyline points="270.7,440 257.3,468.5 245,468.5" class="d2" />
<text x="0" y="0" font-size="10.0" class="ld" transform="matrix(0.7027 0 0 0.7042 247.80 466.13)" >9</text>
<polyline points="257.3,468.5 257.3,477.4 245,477.4" class="d2" />
<text x="0" y="0" font-size="10.0" class="ld" transform="matrix(0.5495 0 0 0.8857 248.40 476.30)" >12</text>
<polyline points="287.4,445.6 300.8,468.5 310.8,468.5" class="d2" />
<text x="0" y="0" font-size="10.0" class="ld" transform="matrix(0.6610 0 0 0.7971 304.20 466.70)" >7</text>
<text x="0" y="0" font-size="10.0" class="lb" transform="matrix(0.7771 0 0 1.3768 386.60 375.70)" >Б–Б(1:1)</text>
<rect x="374.5" y="388.1" width="63.2" height="2.7" class="hat2" />
<line x1="376" y1="389.45" x2="436" y2="389.45" class="hd" />
<line x1="419" y1="390.8" x2="419" y2="403.2" class="pw" />
<line x1="427.9" y1="390.8" x2="427.9" y2="401" class="pw" />
<line x1="419" y1="410.3" x2="419" y2="425.4" class="pw" />
<line x1="428.2" y1="409.2" x2="428.2" y2="425.4" class="pw" />
<path d="M413.2,401 L419,402.8 L423,402 L426,401.3 L432.9,402.5" class="d2" />
<path d="M413.2,408.4 L419,410.4 L423,409.8 L426,409.2 L432.9,410.7" class="d2" />
<line x1="423.2" y1="383" x2="423.2" y2="466" class="c" />
<rect x="416.3" y="425.4" width="14.2" height="5.5" class="mw" />
<line x1="420" y1="425.4" x2="420" y2="430.9" class="d2" />
<line x1="427" y1="425.4" x2="427" y2="430.9" class="d2" />
<rect x="414.6" y="430.9" width="18" height="1.6" class="mf3" />
<path d="M415.9,434 L412.2,434 Q409.2,434 409.2,437 L409.2,458.8 Q409.2,461.8 412.2,461.8 L434.2,461.8 Q437.2,461.8 437.2,458.8 L437.2,437 Q437.2,434 434.2,434 L430.1,434" class="mt3" />
<path d="M415.9,436.2 L413.9,436.2 Q411.2,436.2 411.2,439 L411.2,457 Q411.2,459.8 413.9,459.8 L432.5,459.8 Q435.2,459.8 435.2,457 L435.2,439 Q435.2,436.2 432.5,436.2 L430.1,436.2" class="d4" />
<rect x="415.5" y="434" width="3.5" height="2.3" class="mf2" />
<rect x="427.5" y="434" width="3.5" height="2.3" class="mf2" />
<path d="M415,436.3 L431.4,436.3 L431.4,439 Q431.4,440 430.4,440 L416,440 Q415,440 415,439 Z" class="mw" />
<rect x="417.1" y="440" width="12.6" height="6.3" class="mw" />
<path d="M419,446.3 L427.6,446.3 L427.6,451 Q427.6,452.2 426.4,452.2 L420.2,452.2 Q419,452.2 419,451 Z" class="mw" />
<rect x="426" y="442.2" width="2" height="1" class="mf2" />
<rect x="361.1" y="458.9" width="48.1" height="2.9" class="hat2" />
<line x1="362" y1="460.35" x2="408" y2="460.35" class="hd" />
<polyline points="425,397 445,391 458,391" class="d2" />
<circle cx="425" cy="397" r="0.6" class="mf2" />
<text x="0" y="0" font-size="10.0" class="ld" transform="matrix(0.7143 0 0 0.7857 451.50 390.02)" >5</text>
<polyline points="417,425 398,411 388,411" class="d2" />
<text x="0" y="0" font-size="10.0" class="ld" transform="matrix(0.6009 0 0 0.8000 389.00 410.82)" >15</text>
<polyline points="415,432 400,427 388,427" class="d2" />
<text x="0" y="0" font-size="10.0" class="ld" transform="matrix(0.6278 0 0 0.7746 389.00 426.22)" >16</text>
<polyline points="435,434 452,428 462,428" class="d2" />
<text x="0" y="0" font-size="10.0" class="ld" transform="matrix(0.4595 0 0 0.7887 454.90 426.92)" >10</text>
</svg>
</body></html>
